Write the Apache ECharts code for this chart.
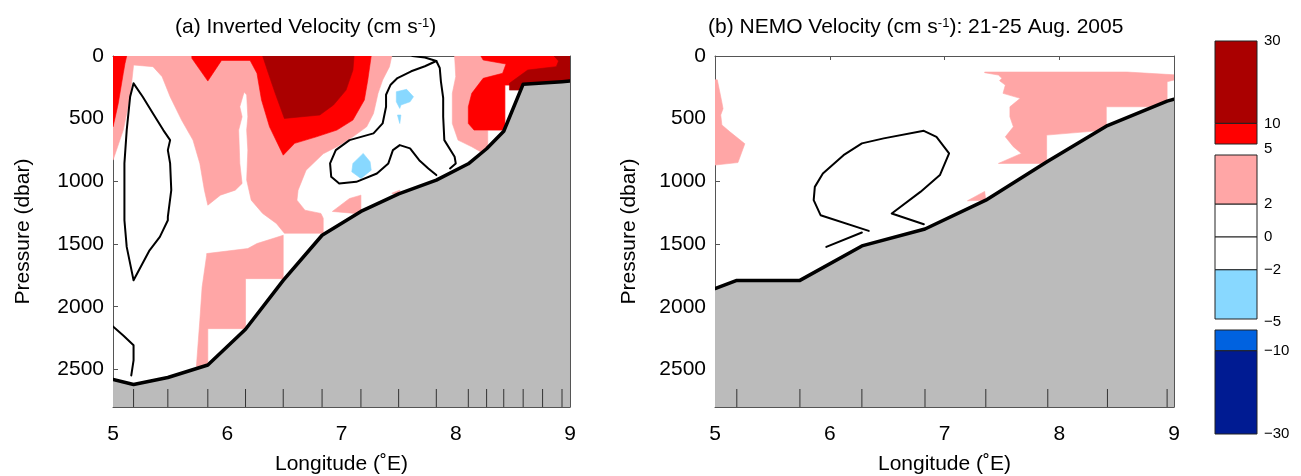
<!DOCTYPE html>
<html>
<head>
<meta charset="utf-8">
<script src="https://cdn.jsdelivr.net/npm/echarts@6/dist/echarts.min.js"></script>
<style>
  html, body { margin: 0; padding: 0; background: #fff; }
  #chart { width: 1301px; height: 476px; }
</style>
</head>
<body>
<div id="chart"></div>
<script>
// ---------- axes ----------
const lonTicks = [5, 6, 7, 8, 9];
const pressureTicks = [0, 500, 1000, 1500, 2000, 2500];
const LON_MIN = 5, LON_MAX = 9, DEPTH_MAX = 2800;

// ---------- colour levels (cm/s) ----------
const colorLevels = [30, 10, 5, 2, 0, -2, -5, -10, -30];
const levelColors = ['#aa0000', '#ff0000', '#ffa6a6', '#ffffff', '#ffffff', '#88d8ff', '#0062e0', '#001b92'];
const colorbarGroups = [[5, 30], [-5, 5], [-30, -5]];
const colorbarLabels = [[30, 10, 5], [2, 0, -2, -5], [-10, -30]];

// ---------- station longitudes ----------
const invStations = [5.18, 5.48, 5.83, 6.16, 6.49, 6.83, 7.17, 7.50, 7.83, 8.11, 8.27, 8.42, 8.59, 8.76, 8.93];
const nemoStations = [5.19, 5.74, 6.28, 6.83, 7.36, 7.90, 8.42, 8.94];

// ---------- bottom topography [lon, dbar] ----------
const invBottom = [[5.0, 2580], [5.18, 2620], [5.48, 2565], [5.83, 2465], [6.16, 2180], [6.49, 1790], [6.83, 1430],
  [7.17, 1240], [7.50, 1100], [7.83, 990], [8.11, 860], [8.27, 740], [8.42, 600], [8.59, 225], [8.76, 215], [8.93, 205], [9.0, 200]];
const nemoBottom = [[5.0, 1855], [5.19, 1790], [5.74, 1790], [6.28, 1515], [6.83, 1380], [7.36, 1150], [7.90, 840],
  [8.42, 555], [8.94, 360], [9.0, 345]];

// ---------- (a) inverted velocity regions [lon, dbar] ----------
const invPinkUpper = [[5.0, 0], [7.44, 0], [7.42, 85], [7.36, 192], [7.32, 298], [7.28, 458], [7.22, 565], [7.10, 645],
  [6.96, 724], [6.84, 780], [6.69, 911], [6.62, 1070], [6.61, 1150], [6.68, 1230], [6.82, 1256], [6.84, 1294], [6.84, 1414],
  [6.50, 1414], [6.43, 1336], [6.31, 1256], [6.21, 1150], [6.17, 990], [6.18, 751], [6.17, 591], [6.18, 485], [6.17, 311],
  [6.15, 288], [6.14, 311], [6.11, 405], [6.13, 485], [6.10, 591], [6.11, 857], [6.13, 1017], [6.07, 1070], [5.94, 1110],
  [5.83, 1190], [5.80, 1070], [5.76, 857], [5.70, 671], [5.60, 511], [5.50, 325], [5.43, 165], [5.35, 85], [5.18, 72],
  [5.15, 325], [5.09, 591], [5.0, 831]];
const invPinkLower = [[5.82, 1576], [6.18, 1536], [6.26, 1496], [6.40, 1456], [6.49, 1430], [6.49, 1776], [6.16, 1776],
  [6.16, 2175], [5.83, 2175], [5.83, 2476], [5.73, 2476], [5.76, 2109], [5.78, 1843], [5.82, 1589]];
const invPinkShelf = [[7.99, 0], [9.0, 0], [9.0, 232], [8.43, 232], [8.43, 591], [8.28, 591], [8.28, 751], [8.22, 765],
  [8.14, 724], [8.02, 671], [7.97, 538], [7.97, 298], [8.00, 165]];
const invPinkSlope = [[6.92, 1240], [7.07, 1137], [7.17, 1110], [7.17, 1260]];
const invPinkSlope2 = [[7.44, 1095], [7.51, 1070], [7.51, 1110]];

const invRedCorner = [[5.0, 0], [5.12, 0], [5.105, 60], [5.09, 138], [5.046, 378], [5.017, 498], [5.0, 565]];
const invRedCore = [[5.69, 0], [7.26, 0], [7.23, 192], [7.20, 351], [7.10, 511], [6.96, 591], [6.78, 645], [6.59, 697],
  [6.49, 791], [6.37, 565], [6.30, 351], [6.26, 138], [6.20, 35], [5.95, 35], [5.83, 200], [5.69, 18]];
const invRedShelf = [[8.22, 0], [9.0, 0], [9.0, 232], [8.43, 232], [8.43, 591], [8.16, 591], [8.11, 538], [8.11, 405],
  [8.14, 298], [8.24, 178], [8.41, 138], [8.44, 64], [8.34, 48], [8.24, 32]];

const invDarkCore = [[6.31, 0], [7.11, 0], [7.10, 112], [7.04, 272], [6.93, 391], [6.81, 471], [6.50, 498], [6.42, 298], [6.36, 138]];
const invDarkShelf = [[8.47, 272], [8.47, 218], [8.63, 112], [8.76, 98], [8.88, 85], [8.90, 40], [8.86, 0], [9.0, 0], [9.0, 272]];

const invBlue1 = [[7.48, 285], [7.57, 266], [7.63, 325], [7.60, 365], [7.52, 391], [7.51, 418], [7.48, 365]];
const invBlue2 = [[7.49, 471], [7.52, 471], [7.51, 538]];
const invBlue3 = [[7.19, 777], [7.25, 844], [7.26, 911], [7.17, 977], [7.09, 924], [7.10, 857]];

// zero-velocity contours
const invZeroLoop = [[5.18, 218], [5.26, 325], [5.35, 458], [5.44, 591], [5.50, 671], [5.48, 751], [5.50, 857], [5.51, 1070],
  [5.48, 1284], [5.48, 1310], [5.41, 1443], [5.32, 1550], [5.18, 1789], [5.15, 1656], [5.12, 1523], [5.10, 1310],
  [5.10, 857], [5.12, 591], [5.15, 325], [5.18, 218]];
const invZeroDeep = [[5.0, 2157], [5.09, 2229], [5.18, 2308], [5.18, 2428], [5.16, 2548]];
const invZeroEast = [[7.83, 950], [7.76, 897], [7.68, 831], [7.60, 737], [7.51, 711], [7.45, 751], [7.41, 857], [7.31, 937],
  [7.13, 1004], [6.98, 1017], [6.91, 964], [6.90, 857], [6.95, 751], [7.07, 671], [7.28, 617], [7.36, 538], [7.39, 405],
  [7.39, 309], [7.43, 229], [7.49, 176], [7.61, 122], [7.73, 82], [7.83, 40], [7.86, 96], [7.87, 202], [7.89, 335],
  [7.89, 485], [7.90, 671], [7.99, 804], [8.00, 857], [7.95, 897]];
const invZeroTop = [[7.62, 0], [7.73, 12], [7.83, 40]];

// ---------- (b) NEMO velocity regions [lon, dbar] ----------
const nemoPinkWest = [[5.0, 190], [5.02, 190], [5.06, 370], [5.07, 420], [5.05, 470], [5.06, 550], [5.13, 605],
  [5.26, 700], [5.20, 850], [5.0, 870]];
const nemoPinkShelf = [[7.35, 133], [7.47, 152], [7.50, 178], [7.48, 197], [7.53, 232], [7.51, 298], [7.66, 338],
  [7.57, 405], [7.57, 485], [7.60, 565], [7.53, 645], [7.60, 724], [7.67, 777], [7.47, 857], [7.89, 857], [7.89, 631],
  [8.41, 591], [8.41, 405], [8.94, 405], [8.94, 205], [9.0, 192], [9.0, 150], [8.59, 128], [7.35, 128]];
const nemoPinkSlope = [[7.20, 1155], [7.35, 1080], [7.36, 1150]];
const nemoZeroLoop = [[6.82, 1342], [6.54, 1256], [6.79, 1084], [6.96, 950], [7.04, 777], [6.93, 645], [6.82, 597],
  [6.47, 657], [6.28, 697], [6.12, 791], [5.94, 937], [5.87, 1044], [5.86, 1150], [5.92, 1270], [6.34, 1395]];
const nemoZeroTail = [[5.97, 1523], [6.28, 1408]];

// ---------- drawing helpers ----------
const FONT = "'Liberation Sans', Arial, Helvetica, sans-serif";
const AXIS_COLOR = '#555';
const PINK = levelColors[2], RED = levelColors[1], DARK_RED = levelColors[0], LIGHT_BLUE = levelColors[5];
const SEABED = '#bbbbbb';

// filled region drawn through the panel's own axes
function area(panel, pts, color, z) {
  return {
    type: 'custom', xAxisIndex: panel, yAxisIndex: panel, clip: true, silent: true, z: z,
    data: [pts[0]],
    renderItem: (params, api) => ({
      type: 'polygon',
      shape: { points: pts.map(p => api.coord(p)) },
      style: { fill: color, stroke: color, lineWidth: 0.6 }
    })
  };
}

// contour / outline line
function contour(panel, pts, width, z) {
  return {
    type: 'custom', xAxisIndex: panel, yAxisIndex: panel, clip: true, silent: true, z: z,
    data: [pts[0]],
    renderItem: (params, api) => ({
      type: 'polyline',
      shape: { points: pts.map(p => api.coord(p)) },
      style: { stroke: '#000', lineWidth: width, fill: null, lineJoin: 'round', lineCap: 'round' }
    })
  };
}

// grey sea floor below the bottom profile
function seabed(panel, pts) {
  const poly = pts.concat([[LON_MAX, DEPTH_MAX], [LON_MIN, DEPTH_MAX]]);
  return [area(panel, poly, SEABED, 10), contour(panel, pts, 3.5, 11)];
}

// station marks rising from the bottom axis
function stationTicks(panel, lons) {
  return {
    type: 'custom', xAxisIndex: panel, yAxisIndex: panel, clip: false, silent: true, z: 12,
    data: lons.map(l => [l, DEPTH_MAX]),
    renderItem: (params, api) => {
      const p = api.coord([api.value(0), api.value(1)]);
      return { type: 'line', shape: { x1: p[0], y1: p[1], x2: p[0], y2: p[1] - 18 },
        style: { stroke: '#333', lineWidth: 1 } };
    }
  };
}

// colour bar blocks, one per level interval
function colorbarSeries(g) {
  const [lo, hi] = colorbarGroups[g];
  const blocks = [];
  for (let i = 0; i < levelColors.length; i++) {
    const top = colorLevels[i], bot = colorLevels[i + 1];
    if (top <= hi && bot >= lo) blocks.push([bot, top, i]);
  }
  return {
    type: 'custom', xAxisIndex: 4 + g, yAxisIndex: 4 + g, silent: true, z: 5,
    data: blocks,
    renderItem: (params, api) => {
      const a = api.coord([0, api.value(1)]);
      const b = api.coord([1, api.value(0)]);
      return { type: 'rect', shape: { x: a[0], y: a[1], width: b[0] - a[0], height: b[1] - a[1] },
        style: { fill: levelColors[api.value(2)], stroke: '#222', lineWidth: 1 } };
    }
  };
}

const minus = v => (v < 0 ? '\u2212' + Math.abs(v) : String(v));

// ---------- layout ----------
const grids = [
  { left: 113, top: 56, width: 457, height: 351 },
  { left: 715, top: 56, width: 459, height: 351 },
  { left: 1215, top: 41, width: 42, height: 103 },
  { left: 1215, top: 155, width: 42, height: 164 },
  { left: 1215, top: 330, width: 42, height: 104 }
].map(g => Object.assign({ containLabel: false, outerBoundsMode: 'none' }, g));

const txt = { color: '#000', fontFamily: FONT, fontSize: 21 };

function lonAxis(panel, position) {
  const bottom = position === 'bottom';
  return {
    gridIndex: panel, type: 'value', min: LON_MIN, max: LON_MAX, interval: 1, position: position,
    axisLine: { show: true, onZero: false, lineStyle: { color: AXIS_COLOR, width: 1 } },
    axisTick: { show: true, inside: true, length: 4, lineStyle: { color: AXIS_COLOR } },
    axisLabel: { show: bottom, margin: 17, customValues: lonTicks, formatter: v => String(v), ...txt },
    splitLine: { show: false },
    name: bottom ? 'Longitude (˚E)' : '', nameLocation: 'middle', nameGap: 47, nameTextStyle: txt
  };
}

function pressureAxis(panel, position, nameGap) {
  const left = position === 'left';
  return {
    gridIndex: panel, type: 'value', inverse: true, min: 0, max: DEPTH_MAX, position: position,
    axisLine: { show: true, onZero: false, lineStyle: { color: AXIS_COLOR, width: 1 } },
    axisTick: { show: true, inside: true, length: 5, customValues: pressureTicks, lineStyle: { color: AXIS_COLOR } },
    axisLabel: { show: left, margin: 9, customValues: pressureTicks, formatter: v => String(v), ...txt },
    splitLine: { show: false },
    name: left ? 'Pressure (dbar)' : '', nameLocation: 'middle', nameGap: nameGap, nameRotate: 90, nameTextStyle: txt
  };
}

const xAxes = [
  lonAxis(0, 'bottom'), lonAxis(1, 'bottom'), lonAxis(0, 'top'), lonAxis(1, 'top')
];
const yAxes = [
  pressureAxis(0, 'left', 79), pressureAxis(1, 'left', 75), pressureAxis(0, 'right', 0), pressureAxis(1, 'right', 0)
];
colorbarGroups.forEach((grp, g) => {
  xAxes.push({ gridIndex: 2 + g, type: 'value', min: 0, max: 1, show: false });
  yAxes.push({
    gridIndex: 2 + g, type: 'value', min: grp[0], max: grp[1], position: 'right',
    axisLine: { show: false }, axisTick: { show: false }, splitLine: { show: false },
    axisLabel: {
      show: true, margin: 7, customValues: colorbarLabels[g], color: '#000', fontFamily: FONT, fontSize: 15,
      formatter: v => (v === 5 ? '{lo|5}' : v === -5 ? '{lo2|' + minus(v) + '}' : minus(v)),
      rich: { lo: { padding: [10, 0, 0, 0] }, lo2: { padding: [6, 0, 0, 0] } }
    }
  });
});

const series = [
  // (a) inverted velocity
  area(0, invPinkUpper, PINK, 1), area(0, invPinkLower, PINK, 1), area(0, invPinkShelf, PINK, 1),
  area(0, invPinkSlope, PINK, 1), area(0, invPinkSlope2, PINK, 1),
  area(0, invRedCorner, RED, 2), area(0, invRedCore, RED, 2), area(0, invRedShelf, RED, 2),
  area(0, invDarkCore, DARK_RED, 3), area(0, invDarkShelf, DARK_RED, 3),
  area(0, invBlue1, LIGHT_BLUE, 4), area(0, invBlue2, LIGHT_BLUE, 4), area(0, invBlue3, LIGHT_BLUE, 4),
  contour(0, invZeroLoop, 2, 6), contour(0, invZeroDeep, 2, 6), contour(0, invZeroEast, 2, 6), contour(0, invZeroTop, 2, 6),
  ...seabed(0, invBottom),
  stationTicks(0, invStations),
  // (b) NEMO velocity
  area(1, nemoPinkWest, PINK, 1), area(1, nemoPinkShelf, PINK, 1), area(1, nemoPinkSlope, PINK, 1),
  contour(1, nemoZeroLoop, 2, 6), contour(1, nemoZeroTail, 2, 6),
  ...seabed(1, nemoBottom),
  stationTicks(1, nemoStations),
  // colour bar
  colorbarSeries(0), colorbarSeries(1), colorbarSeries(2)
];

const titleRich = { sup: { fontSize: 13, verticalAlign: 'top', fontFamily: FONT, color: '#000' } };
const chart = echarts.init(document.getElementById('chart'), null, { renderer: 'canvas' });
chart.setOption({
  backgroundColor: '#fff',
  animation: false,
  title: [
    { text: '(a) Inverted Velocity (cm s{sup|-1})', left: 175, top: 17, padding: 0,
      textStyle: { ...txt, fontWeight: 'normal', rich: titleRich } },
    { text: '(b) NEMO Velocity (cm s{sup|-1}): 21-25 Aug. 2005', left: 708, top: 17, padding: 0,
      textStyle: { ...txt, fontWeight: 'normal', rich: titleRich } }
  ],
  grid: grids,
  xAxis: xAxes,
  yAxis: yAxes,
  series: series
});
</script>
</body>
</html>
